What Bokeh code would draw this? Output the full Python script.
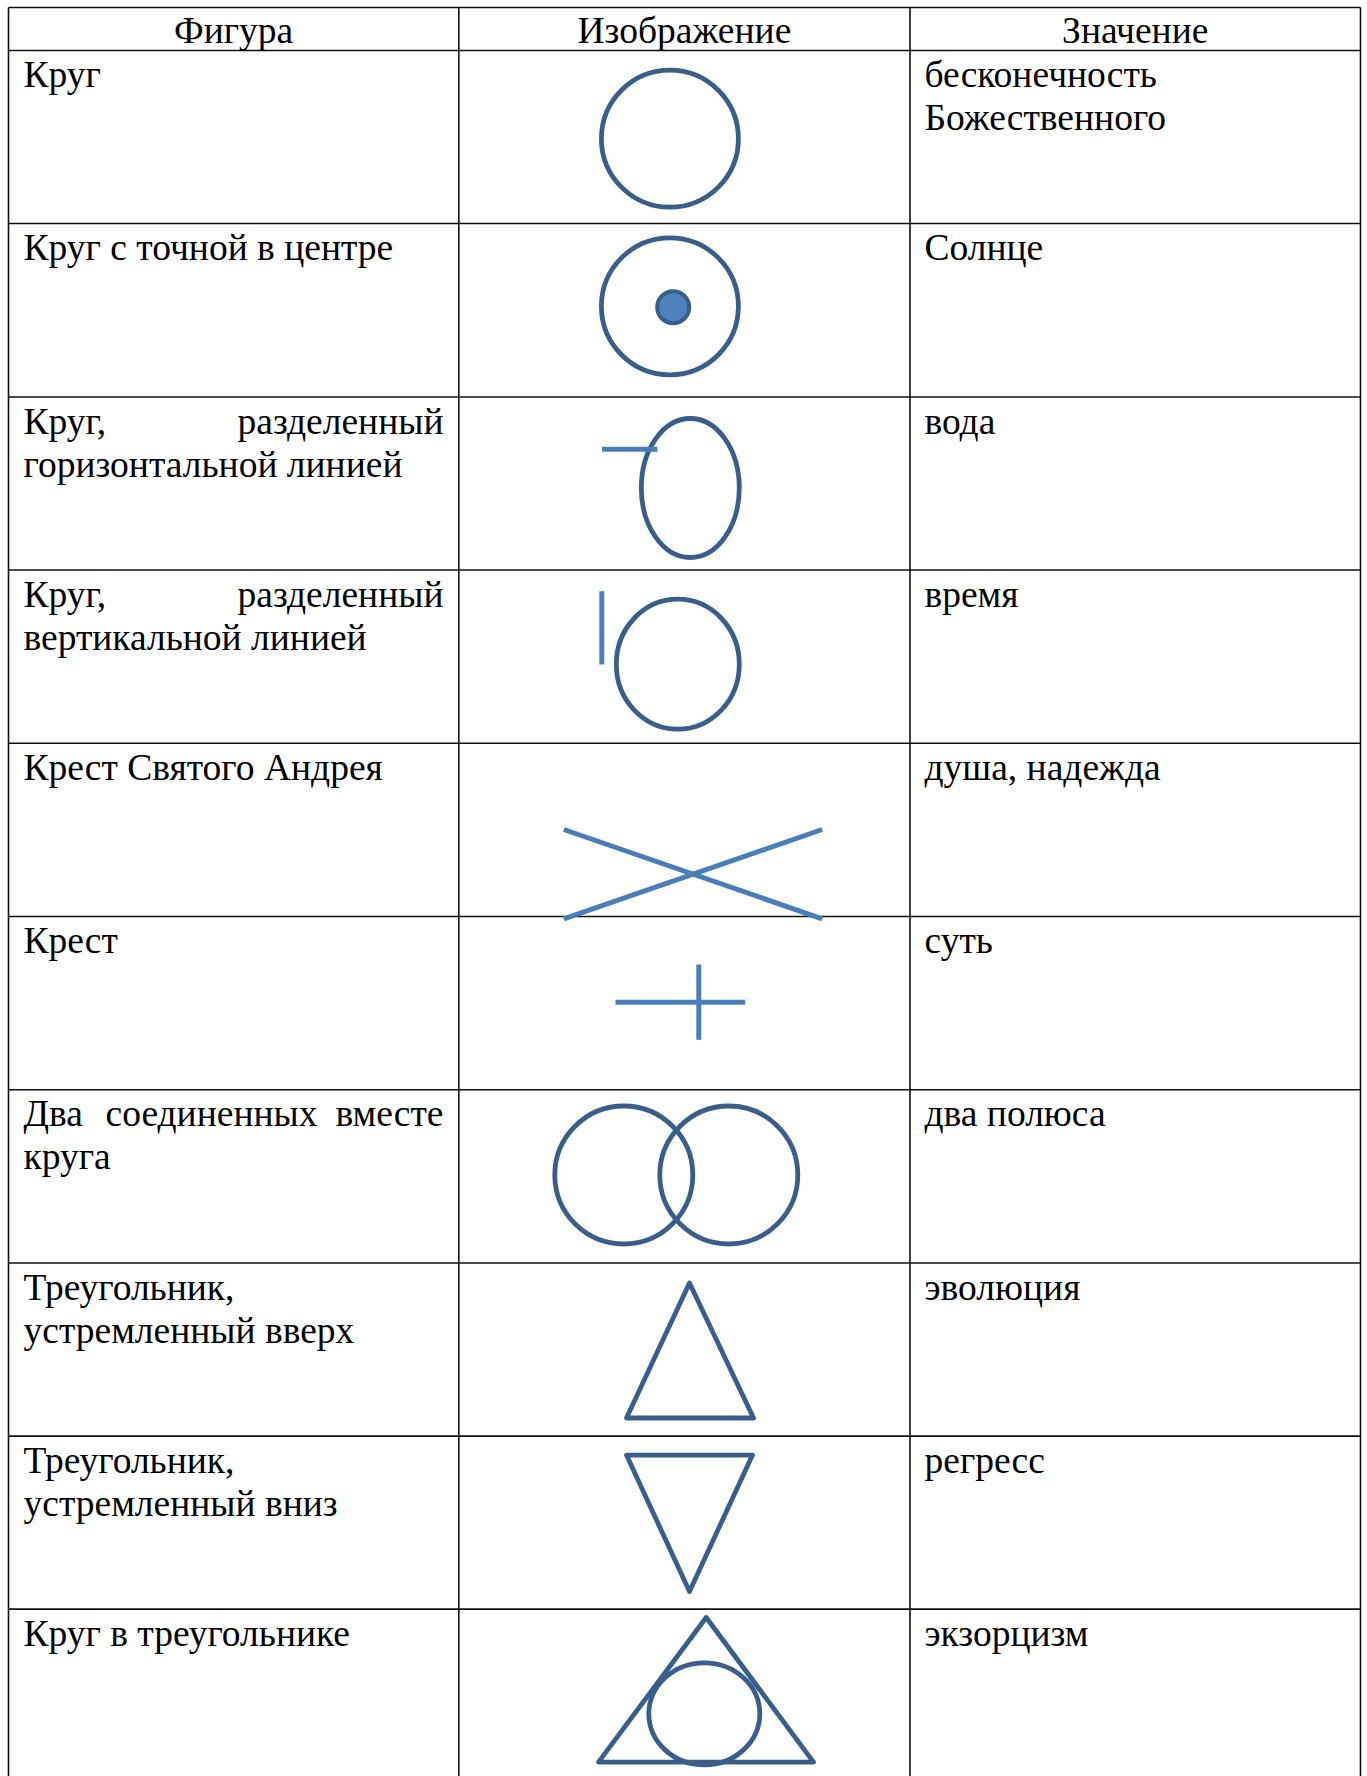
from bokeh.plotting import figure
from bokeh.models import Range1d
from bokeh.core.properties import value
from bokeh.embed import file_html
from bokeh.resources import INLINE

# ---------------- data ----------------
headers = ["Фигура", "Изображение", "Значение"]

# each figure name: list of lines; a line is a list of words (justified when >1 word)
figure_names = [
    [["Круг"]],
    [["Круг с точной в центре"]],
    [["Круг,", "разделенный"], ["горизонтальной линией"]],
    [["Круг,", "разделенный"], ["вертикальной линией"]],
    [["Крест Святого Андрея"]],
    [["Крест"]],
    [["Два", "соединенных", "вместе"], ["круга"]],
    [["Треугольник,"], ["устремленный вверх"]],
    [["Треугольник,"], ["устремленный вниз"]],
    [["Круг в треугольнике"]],
]

meanings = [
    ["бесконечность", "Божественного"],
    ["Солнце"],
    ["вода"],
    ["время"],
    ["душа, надежда"],
    ["суть"],
    ["два полюса"],
    ["эволюция"],
    ["регресс"],
    ["экзорцизм"],
]

# ---------------- layout ----------------
W, H = 1367, 1776

col_x = [8, 458.3, 909.5, 1360]
row_y = [7, 50, 223, 396.5, 569.5, 742.8, 916, 1089.3, 1262.5, 1435.6, 1608.6]

DARK = "#3a5e8b"
LIGHT = "#4a7ebb"
FILL = "#4f81bd"
FONT = value("Liberation Serif")
FS = "37.5px"
LW = 4.8

p = figure(width=W, height=H, x_range=Range1d(0, W), y_range=Range1d(H, 0),
           x_axis_type=None, y_axis_type=None, toolbar_location=None,
           output_backend="svg", min_border=0, outline_line_color=None,
           background_fill_color="white", border_fill_color="white")
p.grid.visible = False

# ---------------- table grid ----------------
bottom = H + 5
hx0 = [col_x[0]] * len(row_y)
hx1 = [col_x[-1]] * len(row_y)
p.segment(x0=hx0, y0=row_y, x1=hx1, y1=row_y, line_color="#111111", line_width=1.6)
p.segment(x0=col_x, y0=[row_y[0]] * len(col_x), x1=col_x, y1=[bottom] * len(col_x),
          line_color="#111111", line_width=1.6)

# ---------------- texts ----------------
tx, ty, tt, ta = [], [], [], []
for c, h in enumerate(headers):
    tx.append((col_x[c] + col_x[c + 1]) / 2)
    ty.append(29.5)
    tt.append(h)
    ta.append("center")

LEFT1, RIGHT1 = 23, 443
LEFT3 = 924
BASE = 24
LEAD = 43
for r, lines in enumerate(figure_names):
    top = row_y[r + 1]
    for li, words in enumerate(lines):
        y = top + BASE + li * LEAD
        tx.append(LEFT1); ty.append(y); tt.append(words[0]); ta.append("left")
        if len(words) > 1:
            tx.append(RIGHT1); ty.append(y); tt.append(words[-1]); ta.append("right")
        if len(words) == 3:
            tx.append(211); ty.append(y); tt.append(words[1]); ta.append("center")

for r, lines in enumerate(meanings):
    top = row_y[r + 1]
    for li, s in enumerate(lines):
        tx.append(LEFT3); ty.append(top + BASE + li * LEAD); tt.append(s); ta.append("left")

p.text(x=tx, y=ty, text=tt, text_align=ta, text_baseline="alphabetic",
       text_font=FONT, text_font_size=FS, text_color="#000000")

# ---------------- shapes ----------------
R = row_y[1:]  # row tops

ex = [669.4, 669.4, 689.8, 677.3, 623.3, 728.3, 703.8]
ey = [R[0] + 88.2, R[1] + 82.8, R[2] + 91, R[3] + 94.2, R[6] + 85.2, R[6] + 85.2, R[9] + 104.7]
ew = [137, 137, 98, 123, 138, 138, 111]
eh = [137, 137, 139, 130, 138, 138, 102]
p.ellipse(x=ex, y=ey, width=ew, height=eh, fill_color=None, line_color=DARK, line_width=LW)

p.ellipse(x=[672.7], y=[R[1] + 83.7], width=[32], height=[32],
          fill_color=FILL, line_color=DARK, line_width=4)

sx0 = [601.5, 601.3, 563.3, 563.3, 615, 698.3]
sy0 = [R[2] + 52.2, R[3] + 21.2, R[4] + 86.2, R[4] + 175.5, R[5] + 85.7, R[5] + 48]
sx1 = [657, 601.3, 821.7, 821.7, 744.7, 698.3]
sy1 = [R[2] + 52.2, R[3] + 94.5, R[4] + 175.5, R[4] + 86.2, R[5] + 85.7, R[5] + 123.3]
p.segment(x0=sx0, y0=sy0, x1=sx1, y1=sy1, line_color=LIGHT, line_width=5, line_cap="butt")

txs = [[626, 689, 753], [626, 752, 689], [598, 705.7, 813]]
tys = [[R[7] + 155, R[7] + 20, R[7] + 155],
       [R[8] + 19, R[8] + 19, R[8] + 155.4],
       [R[9] + 153, R[9] + 8.4, R[9] + 153]]
p.patches(xs=txs, ys=tys, fill_color=None, line_color=DARK, line_width=LW, line_join="round")

open("out.html", "w").write(file_html(p, INLINE))
